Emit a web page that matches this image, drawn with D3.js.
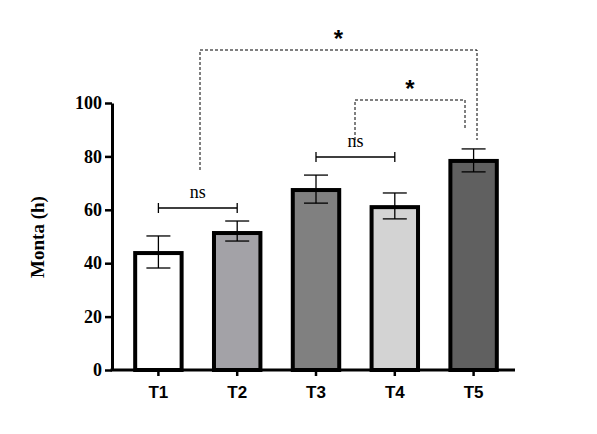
<!DOCTYPE html><html><head><script src="https://cdn.jsdelivr.net/npm/d3@7"></script>
<style>body{margin:0;background:#fff}</style></head><body><svg id="c" width="597" height="434"></svg>
<script>
const categories=["T1","T2","T3","T4","T5"];
const means=[43.8,51.3,67.4,61,78.3];
const errLow=[38.2,48.3,62.5,56.6,74.2];
const errHigh=[50.2,55.8,73,66.3,82.8];
const colors=["#ffffff","#a3a2a7","#808080","#d3d3d3","#606060"];
const yTicks=[0,20,40,60,80,100];
const svg=d3.select("#c");
const x=d3.scaleBand().domain(categories).range([119,513]).paddingInner(0.36).paddingOuter(0.18);
const y=d3.scaleLinear().domain([0,100]).range([370,103]);
const bw=x.bandwidth();
const g=svg.append("g");
g.selectAll("rect").data(categories).join("rect")
 .attr("x",d=>x(d)+2).attr("y",(d,i)=>y(means[i])).attr("width",bw-4).attr("height",(d,i)=>y(0)-y(means[i]))
 .attr("fill",(d,i)=>colors[i]).attr("stroke","#000").attr("stroke-width",4);
categories.forEach((c,i)=>{const cx=x(c)+bw/2;
 g.append("line").attr("x1",cx).attr("x2",cx).attr("y1",y(errLow[i])).attr("y2",y(errHigh[i])).attr("stroke","#000").attr("stroke-width",1.3);
 [errLow[i],errHigh[i]].forEach(v=>g.append("line").attr("x1",cx-12).attr("x2",cx+12).attr("y1",y(v)).attr("y2",y(v)).attr("stroke","#000").attr("stroke-width",1.3));
});
const ya=svg.append("g").attr("transform","translate(112,0)").call(d3.axisLeft(y).tickValues(yTicks).tickSize(7).tickSizeOuter(0));
ya.select(".domain").attr("stroke-width",3);
ya.selectAll(".tick line").attr("stroke-width",2.5);
ya.selectAll("text").attr("font-family","Liberation Serif").attr("font-weight","bold").attr("font-size",18).attr("fill","#000");
const xa=svg.append("g").attr("transform","translate(0,370)").call(d3.axisBottom(x).tickSize(6).tickSizeOuter(0));
xa.select(".domain").attr("d","M110.5,0H515").attr("stroke-width",3);
xa.selectAll(".tick line").attr("stroke-width",2.5);
xa.selectAll("text").attr("font-family","Liberation Sans").attr("font-weight","bold").attr("font-size",17).attr("fill","#000").attr("dy","1.1em");
svg.append("text").attr("transform","translate(44,237) rotate(-90)").attr("text-anchor","middle")
 .attr("font-family","Liberation Serif").attr("font-weight","bold").attr("font-size",19).text("Monta (h)");
const cx=c=>x(c)+bw/2;
function solid(a,b,yy,lab){svg.append("path").attr("d",`M${cx(a)},${yy-5}V${yy+5}M${cx(a)},${yy}H${cx(b)}M${cx(b)},${yy-5}V${yy+5}`).attr("fill","none").attr("stroke","#000").attr("stroke-width",1.3);
 svg.append("text").attr("x",(cx(a)+cx(b))/2).attr("y",yy-10).attr("text-anchor","middle").attr("font-family","Liberation Serif").attr("font-size",18).text(lab);}
solid("T1","T2",208,"ns");solid("T3","T4",157,"ns");
function dashed(x1,y1,x2,y2,top,lab,ly){svg.append("path").attr("d",`M${x1},${y1}V${top}H${x2}V${y2}`).attr("fill","none").attr("stroke","#000").attr("stroke-width",1).attr("stroke-dasharray","3,2");
 svg.append("text").attr("x",(x1+x2)/2).attr("y",ly).attr("text-anchor","middle").attr("font-family","Liberation Sans").attr("font-weight","bold").attr("font-size",24).text(lab);}
dashed(355,140,465,128,100,"*",97);
dashed(200,170,477,140,50,"*",47);
</script></body></html>
